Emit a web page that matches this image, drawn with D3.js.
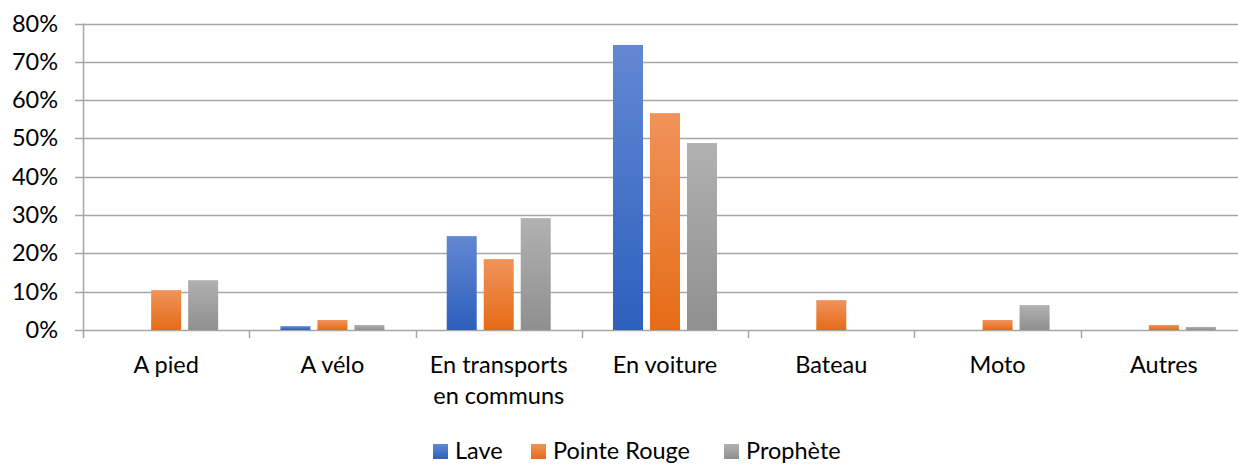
<!DOCTYPE html>
<html><head><meta charset="utf-8">
<script src="https://cdn.jsdelivr.net/npm/d3@7"></script>
<style>
html,body{margin:0;padding:0;background:#fff;overflow:hidden}
text{font-family:Lato,"Liberation Sans",sans-serif;fill:#000}
</style></head>
<body>
<svg id="chart" width="1238" height="465"></svg>
<script>
const categories = ["A pied", "A vélo", "En transports en communs", "En voiture", "Bateau", "Moto", "Autres"];
const categoryLines = [["A pied"], ["A vélo"], ["En transports", "en communs"], ["En voiture"], ["Bateau"], ["Moto"], ["Autres"]];
const seriesNames = ["Lave", "Pointe Rouge", "Prophète"];
const lave = [0, 0.010, 0.245, 0.744, 0, 0, 0];
const pointeRouge = [0.104, 0.026, 0.185, 0.566, 0.078, 0.026, 0.013];
const prophete = [0.130, 0.013, 0.292, 0.488, 0, 0.065, 0.008];
const yTicks = [0, 0.1, 0.2, 0.3, 0.4, 0.5, 0.6, 0.7, 0.8];

const seriesValues = [lave, pointeRouge, prophete];
const gradStops = [["#6388d2", "#2d5fbe"], ["#f0935b", "#e66b16"], ["#b1b1b1", "#8f8f8f"]];

const svg = d3.select("#chart");
const pLeft = 83, pRight = 1247, pTop = 23.5, pBottom = 330;
const fs = 23.5;

const defs = svg.append("defs");
gradStops.forEach((g, i) => {
  const lg = defs.append("linearGradient").attr("id", "g" + i)
    .attr("x1", 0).attr("y1", 0).attr("x2", 0).attr("y2", 1);
  lg.append("stop").attr("offset", "0%").attr("stop-color", g[0]);
  lg.append("stop").attr("offset", "100%").attr("stop-color", g[1]);
});

const x0 = d3.scaleBand().domain(categories).range([pLeft, pRight]).paddingInner(0).paddingOuter(0);
const y = d3.scaleLinear().domain([0, 0.8]).range([pBottom, pTop]);
const barW = 30, gap = 7;

// gridlines
svg.append("g").selectAll("line").data(yTicks).join("line")
  .attr("x1", pLeft - 8).attr("x2", pRight)
  .attr("y1", d => Math.round(y(d)) + 0.5).attr("y2", d => Math.round(y(d)) + 0.5)
  .attr("stroke", "#a6a6a6").attr("stroke-width", 1.5);

// y labels
svg.append("g").selectAll("text").data(yTicks).join("text")
  .attr("x", 58).attr("y", d => y(d) + 8)
  .attr("text-anchor", "end").attr("font-size", fs)
  .text(d3.format(".0%"));

// y axis line
svg.append("line").attr("x1", pLeft + 0.5).attr("x2", pLeft + 0.5)
  .attr("y1", pTop).attr("y2", pBottom + 8).attr("stroke", "#a6a6a6").attr("stroke-width", 1.5);

// category ticks
svg.append("g").selectAll("line").data(categories.slice(1)).join("line")
  .attr("x1", d => Math.round(x0(d)) + 0.5).attr("x2", d => Math.round(x0(d)) + 0.5)
  .attr("y1", pBottom).attr("y2", pBottom + 8)
  .attr("stroke", "#a6a6a6").attr("stroke-width", 1.5);

// bars
const groupW = barW * 3 + gap * 2;
seriesValues.forEach((vals, si) => {
  svg.append("g").selectAll("rect").data(vals).join("rect")
    .attr("x", (d, i) => x0(categories[i]) + x0.bandwidth() / 2 - groupW / 2 + si * (barW + gap))
    .attr("width", barW)
    .attr("y", d => y(d))
    .attr("height", d => pBottom - y(d))
    .attr("fill", "url(#g" + si + ")");
});

// x labels
const xl = svg.append("g");
categories.forEach((c, i) => {
  const t = xl.append("text").attr("text-anchor", "middle").attr("font-size", fs)
    .attr("x", x0(c) + x0.bandwidth() / 2);
  categoryLines[i].forEach((ln, j) => {
    t.append("tspan").attr("x", x0(c) + x0.bandwidth() / 2).attr("y", 373 + j * 31).text(ln);
  });
});

// legend
const legX = [433, 531, 724];
seriesNames.forEach((s, i) => {
  svg.append("rect").attr("x", legX[i]).attr("y", 444).attr("width", 15).attr("height", 15)
    .attr("fill", "url(#g" + i + ")");
  svg.append("text").attr("x", legX[i] + 22).attr("y", 459).attr("font-size", fs).text(s);
});
</script>
</body></html>
